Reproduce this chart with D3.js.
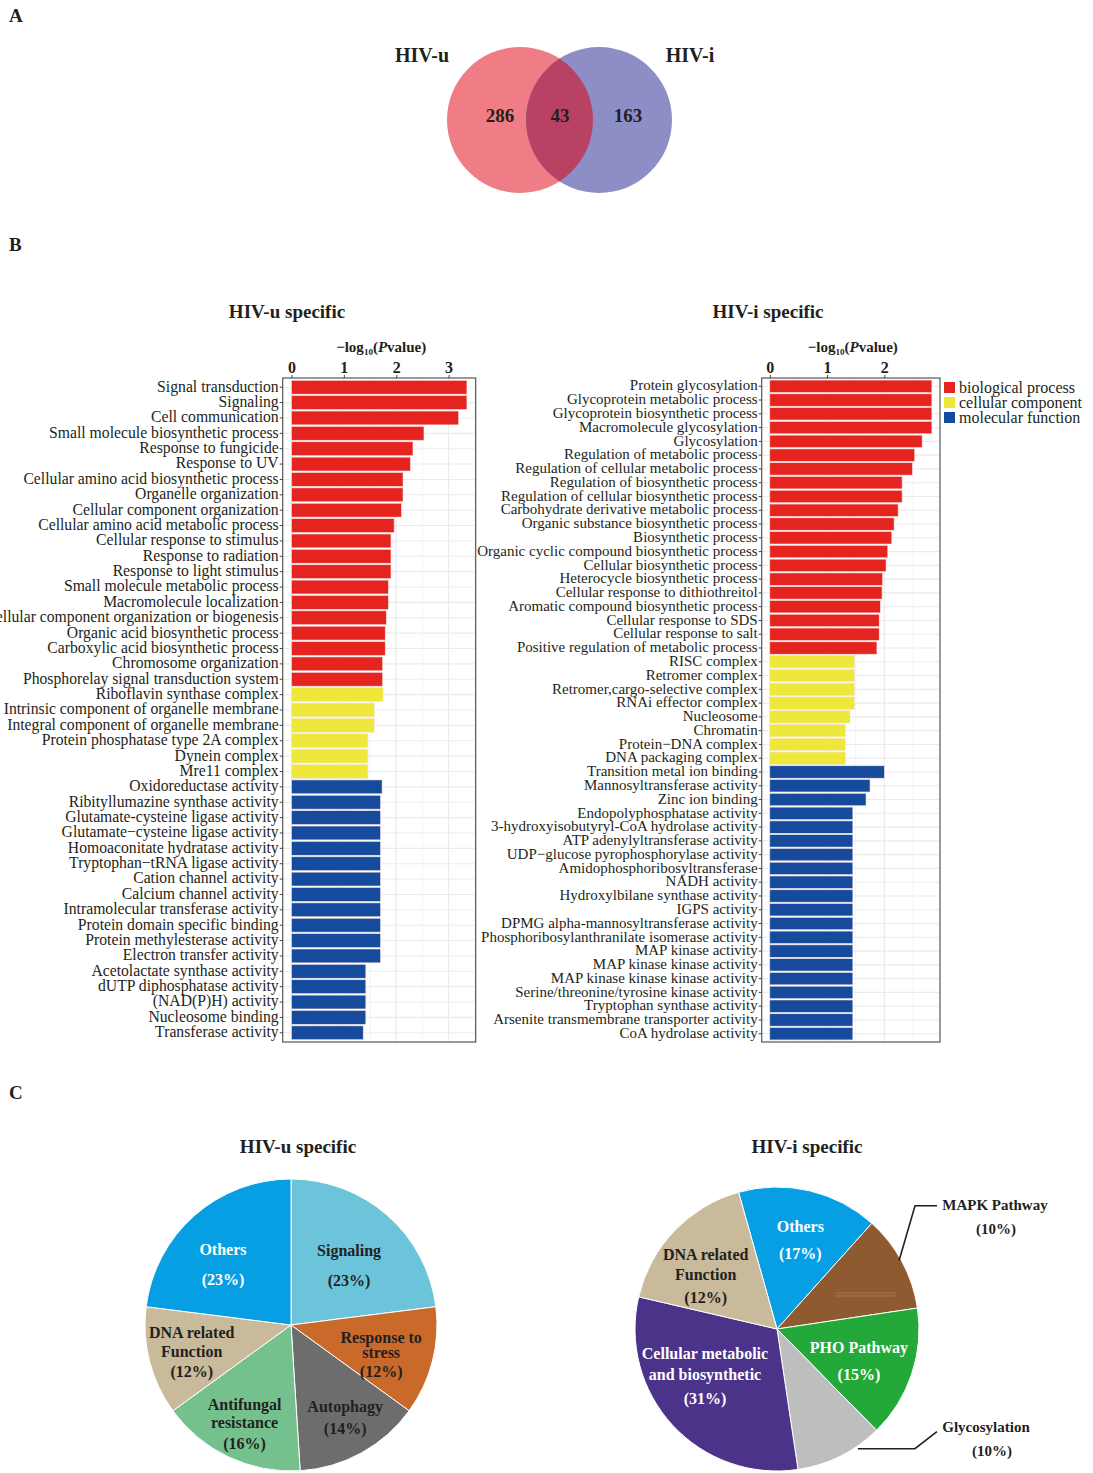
<!DOCTYPE html>
<html>
<head>
<meta charset="utf-8">
<script src="https://cdn.jsdelivr.net/npm/d3@7"></script>
<style>
  body { margin: 0; background: #fff; }
  text { font-family: "Times New Roman", "Liberation Serif", serif; fill: #231f20; }
</style>
</head>
<body>
<div id="fig"></div>
<script>
// ---- data ----
var vennNames = ["HIV-u", "HIV-i"];
var vennCounts = [286, 43, 163]; // u only, shared, i only

var goGroups = ["biological process", "cellular component", "molecular function"];
var goColors = ["#e52420", "#ede83a", "#164a9c"];

var leftTerms = ["Signal transduction", "Signaling", "Cell communication", "Small molecule biosynthetic process",
  "Response to fungicide", "Response to UV", "Cellular amino acid biosynthetic process", "Organelle organization",
  "Cellular component organization", "Cellular amino acid metabolic process", "Cellular response to stimulus",
  "Response to radiation ", "Response to light stimulus", "Small molecule metabolic process", "Macromolecule localization",
  "Cellular component organization or biogenesis", "Organic acid biosynthetic process", "Carboxylic acid biosynthetic process",
  "Chromosome organization", "Phosphorelay signal transduction system",
  "Riboflavin synthase complex", "Intrinsic component of organelle membrane", "Integral component of organelle membrane",
  "Protein phosphatase type 2A complex", "Dynein complex", "Mre11 complex",
  "Oxidoreductase activity", "Ribityllumazine synthase activity", "Glutamate-cysteine ligase activity",
  "Glutamate\u2212cysteine ligase activity", "Homoaconitate hydratase activity", "Tryptophan\u2212tRNA ligase activity",
  "Cation channel activity", "Calcium channel activity", "Intramolecular transferase activity",
  "Protein domain specific binding", "Protein methylesterase activity", "Electron transfer activity",
  "Acetolactate synthase activity", "dUTP diphosphatase activity", "(NAD(P)H) activity", "Nucleosome binding",
  "Transferase activity"];
var leftValues = [3.35, 3.35, 3.19, 2.53, 2.32, 2.27, 2.13, 2.13, 2.10, 1.96, 1.90, 1.90, 1.90, 1.85, 1.85, 1.81, 1.79, 1.79, 1.74, 1.74,
  1.75, 1.58, 1.58, 1.46, 1.46, 1.46,
  1.73, 1.70, 1.70, 1.70, 1.70, 1.70, 1.70, 1.70, 1.70, 1.70, 1.70, 1.70, 1.42, 1.42, 1.42, 1.42, 1.37];
var leftGroupSizes = [20, 6, 17];

var rightTerms = ["Protein glycosylation", "Glycoprotein metabolic process", "Glycoprotein biosynthetic process",
  "Macromolecule glycosylation", "Glycosylation", "Regulation of metabolic process", "Regulation of cellular metabolic process",
  "Regulation of biosynthetic process", "Regulation of cellular biosynthetic process", "Carbohydrate derivative metabolic process",
  "Organic substance biosynthetic process", "Biosynthetic process", "Organic cyclic compound biosynthetic process",
  "Cellular biosynthetic process", "Heterocycle biosynthetic process", "Cellular response to dithiothreitol",
  "Aromatic compound biosynthetic process", "Cellular response to SDS", "Cellular response to salt",
  "Positive regulation of metabolic process",
  "RISC complex", "Retromer complex", "Retromer,cargo-selective complex", "RNAi effector complex", "Nucleosome",
  "Chromatin", "Protein\u2212DNA complex", "DNA packaging complex",
  "Transition metal ion binding", "Mannosyltransferase activity", "Zinc ion binding", "Endopolyphosphatase activity",
  "3-hydroxyisobutyryl-CoA hydrolase activity", "ATP adenylyltransferase activity", "UDP\u2212glucose pyrophosphorylase activity",
  "Amidophosphoribosyltransferase", "NADH activity", "Hydroxylbilane synthase activity", "IGPS activity",
  "DPMG alpha-mannosyltransferase activity", "Phosphoribosylanthranilate isomerase activity", "MAP kinase activity",
  "MAP kinase kinase activity", "MAP kinase kinase kinase activity", "Serine/threonine/tyrosine kinase activity",
  "Tryptophan synthase activity", "Arsenite transmembrane transporter activity", "CoA hydrolase activity"];
var rightValues = [2.83, 2.83, 2.83, 2.83, 2.66, 2.53, 2.49, 2.31, 2.31, 2.24, 2.17, 2.13, 2.06, 2.03, 1.97, 1.96, 1.93, 1.91, 1.91, 1.87,
  1.48, 1.48, 1.48, 1.48, 1.40, 1.32, 1.32, 1.32,
  2.00, 1.75, 1.68, 1.45, 1.45, 1.45, 1.45, 1.45, 1.45, 1.45, 1.45, 1.45, 1.45, 1.45, 1.45, 1.45, 1.45, 1.45, 1.45, 1.45];
var rightGroupSizes = [20, 8, 20];

var pieLeftNames = [["Signaling"], ["Response to", "stress"], ["Autophagy"], ["Antifungal", "resistance"], ["DNA related", "Function"], ["Others"]];
var pieLeftValues = [23, 12, 14, 16, 12, 23];
var pieLeftPct = ["(23%)", "(12%)", "(14%)", "(16%)", "(12%)", "(23%)"];
var pieLeftColors = ["#6cc4db", "#c96a2b", "#6d6d6d", "#74c18e", "#c8ba9a", "#069fe4"];
var pieLeftTextColors = ["#231f20", "#231f20", "#231f20", "#231f20", "#231f20", "#ffffff"];

var pieRightNames = [["Others"], ["MAPK Pathway"], ["PHO Pathway"], ["Glycosylation"], ["Cellular metabolic", "and biosynthetic"], ["DNA related", "Function"]];
var pieRightValues = [16, 11, 15, 10, 31, 17]; // slice sizes as drawn
var pieRightPct = ["(17%)", "(10%)", "(15%)", "(10%)", "(31%)", "(12%)"];
var pieRightColors = ["#069fe4", "#8e5b30", "#22a93a", "#bebebe", "#4b338a", "#c8ba9a"];
var pieRightTextColors = ["#ffffff", "#231f20", "#ffffff", "#231f20", "#ffffff", "#231f20"];
var pieRightOutside = [false, true, false, true, false, false];

// label placement for the pies: radius, angle shift (deg), line gaps
var pieLeftLabelPos = [[83, 3, [30]], [95, 4, [15, 19]], [107, -1.6, [22]], [109, 0, [18, 21]], [103, -1, [19, 20]], [91, -7, [30]]];
var pieRightLabelPos = [[92, 1.6, [27]], null, [88, 3, [27]], null, [86, 9.6, [21, 24]], [89, -7, [20, 23]]];

var W = 1093, H = 1473;
var svg = d3.select("#fig").append("svg").attr("width", W).attr("height", H);
svg.append("rect").attr("width", W).attr("height", H).attr("fill", "#fff");

// panel letters
[["A", 22], ["B", 251], ["C", 1099]].forEach(function(p) {
  svg.append("text").attr("x", 9).attr("y", p[1]).text(p[0])
    .style("font-size", "19px").style("font-weight", "bold");
});

// ---- A: venn ----
var venn = svg.append("g");
var vr = 73, vcy = 120, vcx = [520, 599];
svg.append("defs").append("clipPath").attr("id", "clipR")
  .append("circle").attr("cx", vcx[1]).attr("cy", vcy).attr("r", vr);
venn.append("circle").attr("cx", vcx[0]).attr("cy", vcy).attr("r", vr).attr("fill", "#f07c86");
venn.append("circle").attr("cx", vcx[1]).attr("cy", vcy).attr("r", vr).attr("fill", "#8d8ec5");
venn.append("circle").attr("cx", vcx[0]).attr("cy", vcy).attr("r", vr).attr("fill", "#b94264").attr("clip-path", "url(#clipR)");
venn.append("text").attr("x", 422).attr("y", 62).attr("text-anchor", "middle").text(vennNames[0])
  .style("font-size", "20px").style("font-weight", "bold");
venn.append("text").attr("x", 690).attr("y", 62).attr("text-anchor", "middle").text(vennNames[1])
  .style("font-size", "20px").style("font-weight", "bold");
var vx = [500, 560, 628];
vennCounts.forEach(function(c, i) {
  venn.append("text").attr("x", vx[i]).attr("y", 122).attr("text-anchor", "middle").text(c)
    .style("font-size", "19px").style("font-weight", "bold");
});

// ---- B: bar charts ----
function expandGroups(sizes) {
  var out = [];
  sizes.forEach(function(n, gi) { for (var k = 0; k < n; k++) out.push(gi); });
  return out;
}

function barChart(terms, values, groupSizes, px0, px1, title, titleX, fontSize) {
  var groups = expandGroups(groupSizes);
  var data = terms.map(function(t, i) { return { term: t, value: values[i], group: groups[i], idx: i }; });
  var top = 378, bottom = 1042;
  var vmax = d3.max(values);
  var x = d3.scaleLinear().domain([-0.05 * vmax, vmax * 1.05]).range([px0, px1]);
  var y = d3.scaleBand().domain(data.map(function(d) { return d.idx; })).range([top, bottom])
    .paddingInner(0.1).paddingOuter(0.15);
  var g = svg.append("g");

  // grid
  var gridX = d3.range(0, vmax * 1.05, 0.5);
  g.selectAll(".gx").data(gridX).enter().append("line")
    .attr("x1", function(d) { return x(d); }).attr("x2", function(d) { return x(d); })
    .attr("y1", top).attr("y2", bottom).attr("stroke", "#ebebeb").attr("stroke-width", function(d) { return d % 1 === 0 ? 1.1 : 0.6; });
  g.selectAll(".gy").data(data).enter().append("line")
    .attr("x1", px0).attr("x2", px1)
    .attr("y1", function(d) { return y(d.idx) + y.bandwidth() / 2; })
    .attr("y2", function(d) { return y(d.idx) + y.bandwidth() / 2; })
    .attr("stroke", "#ebebeb").attr("stroke-width", 1.1);

  // bars
  g.selectAll(".bar").data(data).enter().append("rect")
    .attr("x", x(0)).attr("y", function(d) { return y(d.idx); })
    .attr("width", function(d) { return x(d.value) - x(0); })
    .attr("height", y.bandwidth())
    .attr("fill", function(d) { return goColors[d.group]; })
    .attr("stroke", "#f4e2e2").attr("stroke-width", 0.6);

  // panel border
  g.append("rect").attr("x", px0).attr("y", top).attr("width", px1 - px0).attr("height", bottom - top)
    .attr("fill", "none").attr("stroke", "#555").attr("stroke-width", 1.2);

  // axes
  var ax = g.append("g").attr("transform", "translate(0," + top + ")")
    .call(d3.axisTop(x).tickValues(d3.range(0, Math.floor(vmax) + 1)).tickFormat(d3.format("d")).tickSize(3).tickPadding(2));
  ax.select(".domain").remove();
  ax.selectAll("line").attr("stroke", "#444");
  ax.selectAll("text").style("font-size", "16px").style("font-weight", "bold")
    .style("font-family", "'Times New Roman','Liberation Serif',serif").attr("fill", "#231f20");

  var ay = g.append("g").attr("transform", "translate(" + px0 + ",0)")
    .call(d3.axisLeft(y).tickSize(3).tickPadding(1).tickFormat(function(i) { return terms[i]; }));
  ay.select(".domain").remove();
  ay.selectAll("line").attr("stroke", "#444");
  ay.selectAll("text").style("font-size", fontSize + "px").attr("dy", "0.28em")
    .style("font-family", "'Times New Roman','Liberation Serif',serif").attr("fill", "#231f20");

  // axis title
  var cx = (px0 + px1) / 2 + 2;
  var at = g.append("text").attr("x", cx).attr("y", 352).attr("text-anchor", "middle")
    .style("font-size", "15px").style("font-weight", "bold");
  at.append("tspan").text("\u2212log");
  at.append("tspan").attr("dy", 3).style("font-size", "9px").text("10");
  at.append("tspan").attr("dy", -3).text("(");
  at.append("tspan").style("font-style", "italic").text("P");
  at.append("tspan").text("value)");

  g.append("text").attr("x", titleX).attr("y", 318).attr("text-anchor", "middle").text(title)
    .style("font-size", "19px").style("font-weight", "bold");
  return g;
}

barChart(leftTerms, leftValues, leftGroupSizes, 282.7, 475.7, "HIV-u specific", 287, 15.7);
barChart(rightTerms, rightValues, rightGroupSizes, 761.7, 940, "HIV-i specific", 768, 15);

// legend
var leg = svg.append("g").attr("transform", "translate(944,382)");
goGroups.forEach(function(name, i) {
  leg.append("rect").attr("x", 0).attr("y", i * 15).attr("width", 11).attr("height", 11).attr("fill", goColors[i]);
  leg.append("text").attr("x", 15).attr("y", i * 15 + 10.5).text(name).style("font-size", "16px");
});

// ---- C: pies ----
function pieChart(cx, cy, R, values, colors, names, pcts, textColors, startDeg, labelPos, title, titleX) {
  var g = svg.append("g").attr("transform", "translate(" + cx + "," + cy + ")");
  var start = startDeg * Math.PI / 180;
  var pie = d3.pie().sort(null).startAngle(start).endAngle(start + 2 * Math.PI);
  var arcs = pie(values);
  var arc = d3.arc().innerRadius(0).outerRadius(R);
  var edgeArc = d3.arc().innerRadius(R).outerRadius(R);

  g.selectAll(".slice").data(arcs).enter().append("path")
    .attr("d", arc).attr("fill", function(d, i) { return colors[i]; })
    .attr("stroke", "#fff").attr("stroke-width", 1);

  arcs.forEach(function(a, i) {
    var lp = labelPos[i];
    if (!lp) return;
    var ang = (a.startAngle + a.endAngle) / 2 + lp[1] * Math.PI / 180;
    var c = [lp[0] * Math.sin(ang), -lp[0] * Math.cos(ang)];
    var lines = names[i].concat([pcts[i]]);
    var offs = [0];
    lp[2].forEach(function(gap, k) { offs.push(offs[k] + gap); });
    var mid = offs[offs.length - 1] / 2;
    lines.forEach(function(t, k) {
      g.append("text").attr("x", c[0]).attr("y", c[1] - mid + offs[k] + 5.5)
        .attr("text-anchor", "middle").text(t)
        .style("font-size", "16px").style("font-weight", "bold").style("fill", textColors[i]);
    });
  });

  svg.append("text").attr("x", titleX).attr("y", 1153).attr("text-anchor", "middle").text(title)
    .style("font-size", "19px").style("font-weight", "bold");
  return { g: g, arcs: arcs, edgeArc: edgeArc };
}

pieChart(291, 1325, 146, pieLeftValues, pieLeftColors, pieLeftNames, pieLeftPct, pieLeftTextColors,
  0, pieLeftLabelPos, "HIV-u specific", 298);

var pr = pieChart(777, 1329, 142, pieRightValues, pieRightColors, pieRightNames, pieRightPct, pieRightTextColors,
  -15.7, pieRightLabelPos, "HIV-i specific", 807);

// faint streaks inside the MAPK slice
var mapkC = d3.arc().innerRadius(95).outerRadius(95).centroid(pr.arcs[1]);
[0, 3].forEach(function(o) {
  pr.g.append("line").attr("x1", mapkC[0] - 25).attr("x2", mapkC[0] + 35)
    .attr("y1", mapkC[1] + 9 + o).attr("y2", mapkC[1] + 9 + o)
    .attr("stroke", "#c9a788").attr("stroke-width", 0.6).attr("opacity", 0.7);
});

// leader lines for the outside labels
var mapkA = pr.edgeArc.centroid(pr.arcs[1]);
var glyA = d3.arc().innerRadius(142).outerRadius(142).startAngle(pr.arcs[3].startAngle).endAngle(pr.arcs[3].startAngle + 0.2).centroid();
pr.g.append("path")
  .attr("d", d3.line()([[mapkA[0] - 3, mapkA[1] - 1], [mapkA[0] + 13, mapkA[1] - 56], [mapkA[0] + 35, mapkA[1] - 56]]))
  .attr("fill", "none").attr("stroke", "#231f20").attr("stroke-width", 1.6);
pr.g.append("path")
  .attr("d", d3.line()([[glyA[0] - 8, glyA[1] + 9], [glyA[0] + 49, glyA[1] + 9], [glyA[0] + 71, glyA[1] - 8]]))
  .attr("fill", "none").attr("stroke", "#231f20").attr("stroke-width", 1.6);
[[pieRightNames[1][0], 995, 1210], [pieRightPct[1], 996, 1234], [pieRightNames[3][0], 986, 1432], [pieRightPct[3], 992, 1456]]
  .forEach(function(l) {
    svg.append("text").attr("x", l[1]).attr("y", l[2]).attr("text-anchor", "middle").text(l[0])
      .style("font-size", "15px").style("font-weight", "bold");
  });
</script>
</body>
</html>
